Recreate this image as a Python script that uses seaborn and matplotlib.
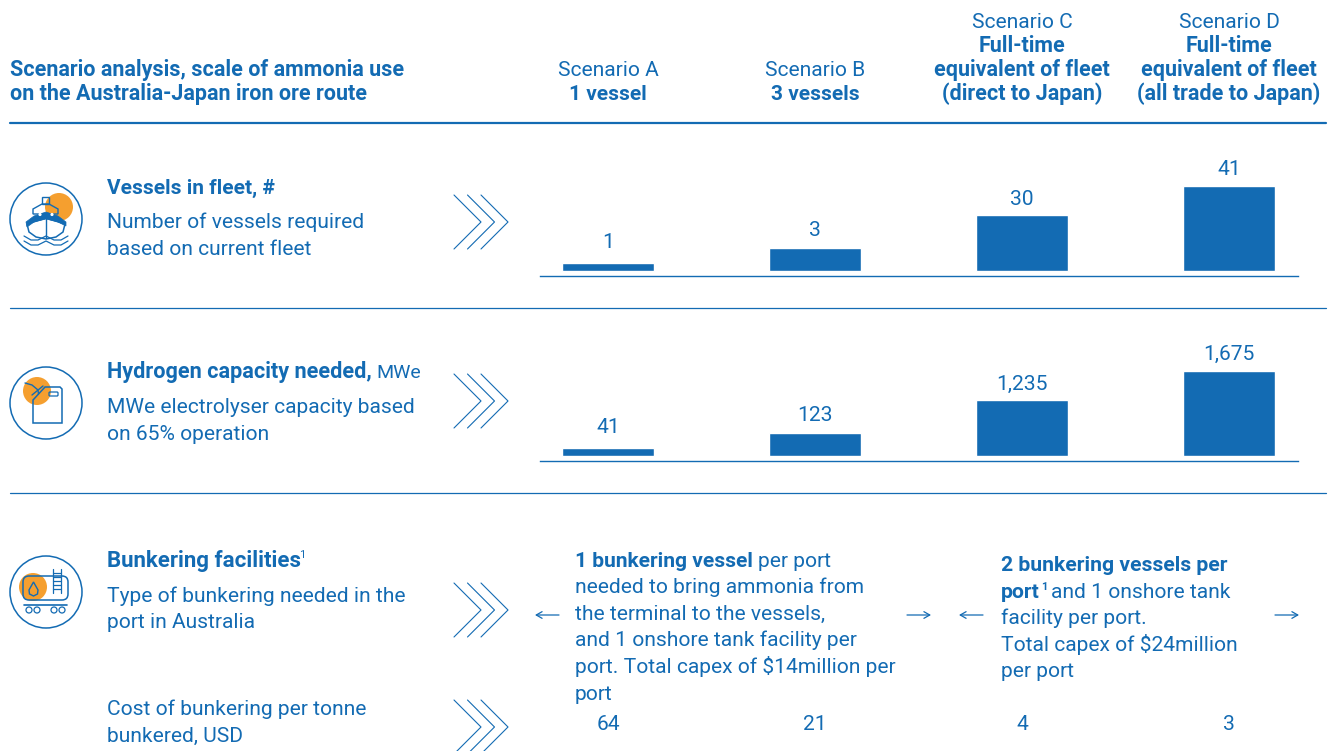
import matplotlib
matplotlib.use('Agg')
import matplotlib.pyplot as plt
from matplotlib.patches import Circle, FancyBboxPatch, Rectangle, Polygon
import pandas as pd
import seaborn as sns

# data
scenarios = ['Scenario A', 'Scenario B', 'Scenario C', 'Scenario D']
vessels = [1, 3, 30, 41]
hydrogen = [41, 123, 1235, 1675]
bunker_cost = [64, 21, 4, 3]
# the source bars are not to scale with their labels, so drawn lengths are kept apart
vessels_drawn = [8, 23, 56, 85]
hydrogen_drawn = [8, 23, 56, 85]

BLUE = '#136BB3'
ORANGE = '#F59F2F'
W, H = 1335, 751
FS = 15.1
BS = 15.5

sns.set_theme(style='white')
plt.rcParams['font.family'] = ['Roboto', 'DejaVu Sans']

fig = plt.figure(figsize=(W / 100, H / 100), dpi=100)
bg = fig.add_axes([0, 0, 1, 1])
bg.set_xlim(0, W)
bg.set_ylim(H, 0)
bg.axis('off')


def txt(x, y, s, bold=False, ha='left', size=None):
    if size is None:
        size = BS if bold else FS
    return bg.text(x, y, s, color=BLUE, fontsize=size, ha=ha, va='baseline',
                   fontweight='bold' if bold else 'normal')


def parts(x, y, segs, size=None):
    # puts bold and regular bits one after the other on the same line
    r = fig.canvas.get_renderer()
    for s, b in segs:
        t = txt(x, y, s, b, size=size if b else None)
        x = t.get_window_extent(r).x1


def bars(top, drawn, labels):
    # top = pixel row of the top of the axes, the bottom spine is the line under the bars
    ax = fig.add_axes([540 / W, 1 - (top + 105) / H, 758 / W, 105 / H])
    df = pd.DataFrame({'scenario': scenarios, 'drawn': drawn})
    sns.barplot(data=df, x='scenario', y='drawn', color=BLUE, saturation=1, width=0.44, ax=ax)
    ax.set_xlim(-68 / 207, 690 / 207)
    ax.set_ylim(-5, 100)
    ax.set_xlabel('')
    ax.set_ylabel('')
    ax.set_xticks([])
    ax.set_yticks([])
    for s in ['top', 'left', 'right']:
        ax.spines[s].set_visible(False)
    ax.spines['bottom'].set_color(BLUE)
    ax.spines['bottom'].set_linewidth(1)
    ax.patch.set_alpha(0)
    # gap over each bar is not the same in the source
    for p, v, gap in zip(ax.containers[0], labels, [15, 12, 10, 11]):
        ax.annotate(f'{v:,}', xy=(p.get_x() + p.get_width() / 2, p.get_height()), xytext=(0, gap),
                    textcoords='offset pixels', ha='center', va='baseline', color=BLUE, fontsize=FS)


bars(171, vessels_drawn, vessels)
bars(356, hydrogen_drawn, hydrogen)

# rules
bg.plot([10, 1326], [123, 123], color=BLUE, lw=1.6)
bg.plot([10, 1326], [308, 308], color=BLUE, lw=0.9)
bg.plot([10, 1326], [493, 493], color=BLUE, lw=0.9)

# header
txt(10, 76, 'Scenario analysis, scale of ammonia use', True)
txt(10, 100, 'on the Australia-Japan iron ore route', True)
txt(608, 76, scenarios[0], ha='center')
txt(608, 100, '1 vessel', True, ha='center', size=15)
txt(815, 76, scenarios[1], ha='center')
txt(815, 100, '3 vessels', True, ha='center', size=15)
for cx, name, last in [(1022, scenarios[2], '(direct to Japan)'), (1229, scenarios[3], '(all trade to Japan)')]:
    txt(cx, 28, name, ha='center')
    txt(cx, 52, 'Full-time', True, ha='center')
    txt(cx, 76, 'equivalent of fleet', True, ha='center')
    txt(cx, 100, last, True, ha='center')

# left column
txt(107, 194, 'Vessels in fleet, #', True, size=15)
txt(107, 228, 'Number of vessels required')
txt(107, 255, 'based on current fleet')
txt(107, 378, 'Hydrogen capacity needed,', True, size=15.6)
txt(376, 378, 'MWe', size=14)
txt(107, 413, 'MWe electrolyser capacity based')
txt(107, 440, 'on 65% operation')
txt(107, 567, 'Bunkering facilities', True, size=16)
txt(299, 558, '1', size=8)
txt(107, 602, 'Type of bunkering needed in the')
txt(107, 628, 'port in Australia')
txt(107, 715, 'Cost of bunkering per tonne')
txt(107, 742, 'bunkered, USD')

# chevrons
for cy in [222, 401, 610, 727]:
    for dx in [0, 13.5, 27]:
        bg.plot([454 + dx, 481 + dx, 454 + dx], [cy - 27, cy, cy + 27], color=BLUE, lw=0.8)

# bunkering text
parts(575, 567, [('1 bunkering vessel ', True), ('per port', False)], size=15.1)
txt(575, 593, 'needed to bring ammonia from')
txt(575, 620, 'the terminal to the vessels,')
txt(575, 646, 'and 1 onshore tank facility per')
txt(575, 673, 'port. Total capex of $14million per')
txt(575, 700, 'port')
txt(1001, 571, '2 bunkering vessels per', True, size=15.2)
txt(1001, 598, 'port', True, size=15.2)
txt(1041, 590, '1', True, size=8)
txt(1051, 598, 'and 1 onshore tank')
txt(1001, 624, 'facility per port.')
txt(1001, 651, 'Total capex of $24million')
txt(1001, 677, 'per port')

for x0, x1 in [(559, 535), (907, 931), (983, 959), (1275, 1299)]:
    bg.annotate('', xy=(x1, 615), xytext=(x0, 615),
                arrowprops=dict(arrowstyle='->,head_length=0.35,head_width=0.2', color=BLUE, lw=0.9,
                                shrinkA=0, shrinkB=0))

# bottom row values
for cx, v in zip([608, 815, 1022, 1229], bunker_cost):
    txt(cx, 730, str(v), ha='center')

# icons
for cy in [219, 403, 592]:
    bg.add_patch(Circle((46, cy), 36, fill=False, ec=BLUE, lw=1.1))
bg.add_patch(Circle((59, 207), 14, fc=ORANGE, ec='none'))
bg.add_patch(Circle((37, 391), 14, fc=ORANGE, ec='none'))
bg.add_patch(Circle((33, 587), 14, fc=ORANGE, ec='none'))

# ship
bg.add_patch(Rectangle((42, 197), 7, 7, fill=False, ec=BLUE, lw=1))
bg.add_patch(Polygon([(33, 214), (33, 209), (42, 204), (49, 204), (58, 209), (58, 214)], fill=False, ec=BLUE, lw=1))
bg.add_patch(Polygon([(27, 224), (29, 232), (36, 237), (46, 239), (56, 237), (63, 232), (65, 224), (46, 218)],
                     fc='white', ec=BLUE, lw=1.1))
bg.add_patch(Polygon([(26, 222), (34, 216), (46, 212), (58, 216), (66, 222), (66, 226), (58, 222), (46, 219), (34, 222), (27, 227)],
                     fc=BLUE, ec=BLUE, lw=0.5))
bg.add_patch(Circle((40, 214.5), 1.6, fc='white', ec='none'))
bg.add_patch(Circle((52, 214.5), 1.6, fc='white', ec='none'))
bg.plot([46, 46], [219, 238], color=BLUE, lw=1)
wave_x = [24, 31, 38, 46, 54, 61, 68]
bg.plot(wave_x, [236, 240, 240, 236, 240, 240, 236], color=BLUE, lw=0.9)
bg.plot(wave_x, [241, 245, 245, 241, 245, 245, 241], color=BLUE, lw=0.9)

# electrolyser
bg.add_patch(Polygon([(33, 423), (33, 400), (45, 387), (60, 387), (62, 389), (62, 423)], fill=False, ec=BLUE, lw=1.1))
bg.add_patch(FancyBboxPatch((50, 393), 7, 2, boxstyle='round,pad=1', fill=False, ec=BLUE, lw=0.9))
bg.plot([25, 32, 38, 38.5], [383, 385, 390, 394], color=BLUE, lw=1)
bg.plot([32, 43], [395, 386], color=BLUE, lw=1)

# tank wagon
bg.add_patch(FancyBboxPatch((25, 578), 41, 20, boxstyle='round,pad=2,rounding_size=6', fill=False, ec=BLUE, lw=1.1))
bg.plot([24, 67], [605, 605], color=BLUE, lw=1.2)
for wx in [29, 37, 54, 62]:
    bg.add_patch(Circle((wx, 610), 3, fill=False, ec=BLUE, lw=0.9))
bg.plot([53, 53], [569, 593], color=BLUE, lw=0.9)
bg.plot([61, 61], [569, 593], color=BLUE, lw=0.9)
for ly in [573, 577, 581, 585, 589]:
    bg.plot([53, 61], [ly, ly], color=BLUE, lw=0.9)
bg.add_patch(Polygon([(33.5, 582), (29, 590), (29.5, 594), (33.5, 596), (37.5, 594), (38, 590)], fill=False, ec=BLUE, lw=1))

bg.set_zorder(3)
bg.patch.set_alpha(0)
fig.savefig('out.png', dpi=100)
